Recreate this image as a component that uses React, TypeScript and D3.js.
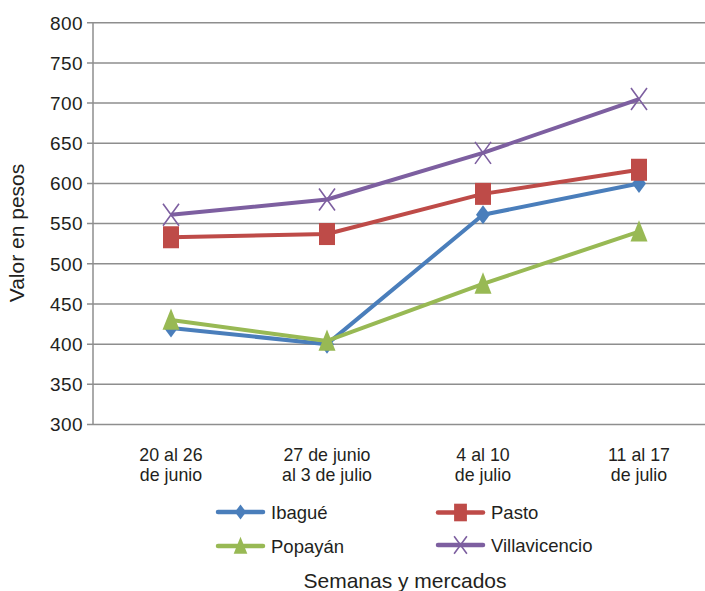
import React from "react";
import * as d3 from "d3";

const categories = [["20 al 26", "de junio"], ["27 de junio", "al 3 de julio"], ["4 al 10", "de julio"], ["11 al 17", "de julio"]];
const ibague = [420, 400, 561, 600];
const pasto = [533, 537, 587, 617];
const popayan = [430, 404, 475, 540];
const villavicencio = [561, 580, 638, 705];
const yTicks = [300, 350, 400, 450, 500, 550, 600, 650, 700, 750, 800];

const series = [
  { name: "Ibagué", values: ibague, color: "#4a7ebb", marker: "diamond" },
  { name: "Pasto", values: pasto, color: "#be4b48", marker: "square" },
  { name: "Popayán", values: popayan, color: "#98b954", marker: "triangle" },
  { name: "Villavicencio", values: villavicencio, color: "#7d5fa0", marker: "x" },
];

const W = 705, H = 591;
const left = 93, right = 717, top = 22.7, bottom = 424.5;
const font = "'Liberation Sans', Arial, sans-serif";
const ink = "#231f20";

function Marker({ type, x, y, color, scale = 1 }: any) {
  const s = scale;
  if (type === "diamond") {
    const w = 7 * s, h = 9.5 * s;
    return <path d={`M${x},${y - h}L${x + w},${y}L${x},${y + h}L${x - w},${y}Z`} fill={color} />;
  }
  if (type === "square") {
    const w = 8 * s, h = 11 * s;
    return <rect x={x - w} y={y - h} width={2 * w} height={2 * h} fill={color} />;
  }
  if (type === "triangle") {
    const w = 8.5 * s, h = 11.5 * s;
    return <path d={`M${x},${y - h}L${x + w},${y + h * 0.85}L${x - w},${y + h * 0.85}Z`} fill={color} />;
  }
  const w = 8 * s, h = 11 * s;
  return (
    <path d={`M${x - w},${y - h}L${x + w},${y + h}M${x + w},${y - h}L${x - w},${y + h}`} stroke={color} strokeWidth={1.6} fill="none" />
  );
}

export default function App() {
  const x = d3.scalePoint<number>().domain(d3.range(categories.length)).range([left, right]).padding(0.5);
  const y = d3.scaleLinear().domain([300, 800]).range([bottom, top]);
  const line = d3.line<number>().x((_, i) => x(i)!).y((d) => y(d));

  const legend = [
    { s: series[0], lx: 218, ly: 512 },
    { s: series[1], lx: 438, ly: 512.5 },
    { s: series[2], lx: 218, ly: 546 },
    { s: series[3], lx: 438, ly: 545 },
  ];

  return (
    <svg width={W} height={H} style={{ position: "absolute", left: 0, top: 0, background: "#fff" }} fontFamily={font}>
      <rect width={W} height={H} fill="#fff" />
      {yTicks.map((t) => (
        <g key={t}>
          <line x1={87} x2={W} y1={y(t)} y2={y(t)} stroke="#8e8e8e" strokeWidth={1.5} />
          <text x={83} y={y(t)} dy="0.36em" textAnchor="end" fontSize={19} fill={ink} letterSpacing={0.4}>{t}</text>
        </g>
      ))}
      <line x1={left} x2={left} y1={top} y2={bottom} stroke="#8e8e8e" strokeWidth={1.5} />
      {series.map((s) => (
        <g key={s.name}>
          <path d={line(s.values)!} fill="none" stroke={s.color} strokeWidth={4} strokeLinejoin="round" />
          {s.values.map((v, i) => (
            <Marker key={i} type={s.marker} x={x(i)} y={y(v)} color={s.color} />
          ))}
        </g>
      ))}
      {categories.map((c, i) => (
        <text key={i} x={x(i)} y={460.5} textAnchor="middle" fontSize={17.8} fill={ink}>
          <tspan x={x(i)}>{c[0]}</tspan>
          <tspan x={x(i)} dy={20}>{c[1]}</tspan>
        </text>
      ))}
      {legend.map(({ s, lx, ly }) => (
        <g key={s.name}>
          <line x1={lx} x2={lx + 45} y1={ly} y2={ly} stroke={s.color} strokeWidth={4.5} strokeLinecap="round" />
          <Marker type={s.marker} x={lx + 22.5} y={ly} color={s.color} scale={0.8} />
          <text x={lx + 53} y={ly} dy="0.36em" fontSize={18.5} fill={ink}>{s.name}</text>
        </g>
      ))}
      <text x={405} y={588} textAnchor="middle" fontSize={21} fill={ink}>Semanas y mercados</text>
      <text transform={`translate(24,233) rotate(-90)`} textAnchor="middle" fontSize={21} fill={ink}>Valor en pesos</text>
    </svg>
  );
}
